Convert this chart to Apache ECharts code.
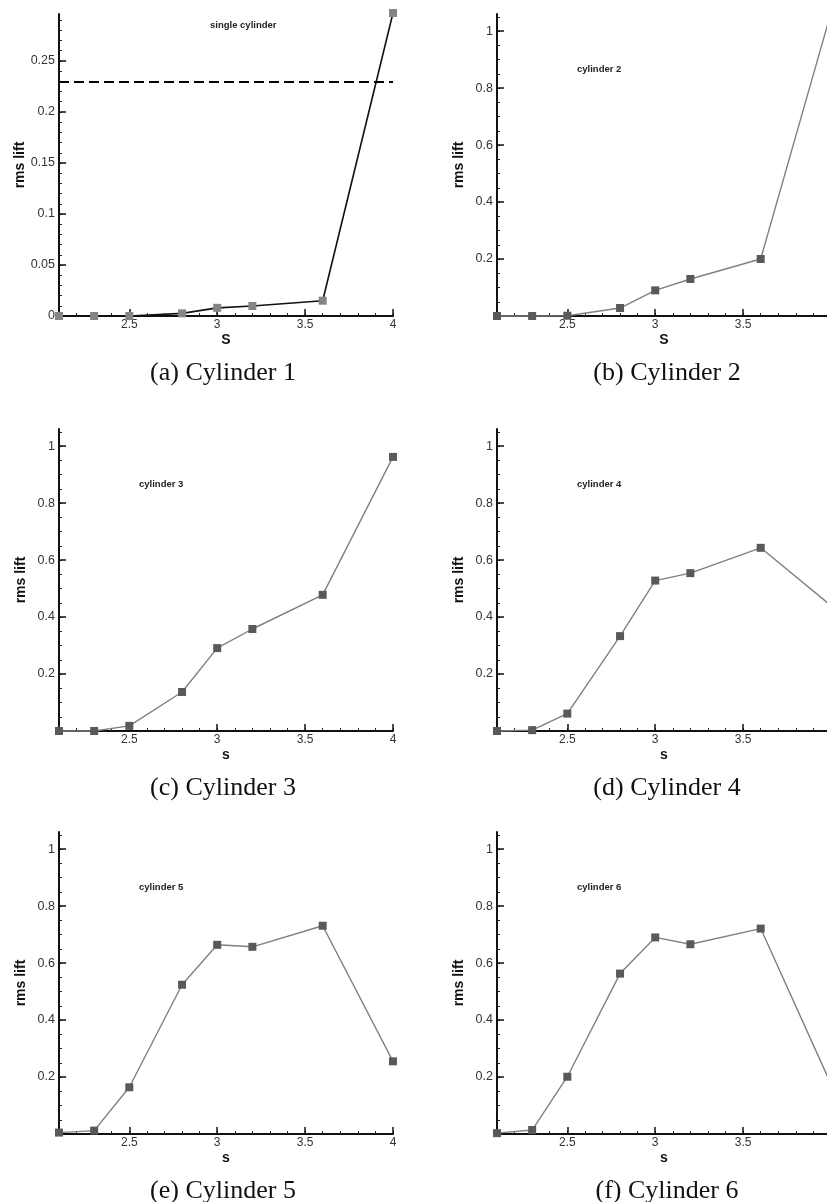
<!DOCTYPE html>
<html>
<head>
<meta charset="utf-8">
<title>rms lift vs s</title>
<script src="https://cdn.jsdelivr.net/npm/echarts@6/dist/echarts.min.js"></script>
<style>
  html, body { margin: 0; padding: 0; background: #ffffff; overflow: hidden; }
  /* the canvas is a little wider than the window: the right-hand panels run off the edge */
  #chart { width: 845px; height: 1202px; }
</style>
</head>
<body>
<div id="chart"></div>
<script>
// Spacing ratio s at which each case was computed
const sValues = [2.1, 2.3, 2.5, 2.8, 3.0, 3.2, 3.6, 4.0];

// rms lift coefficient for each cylinder
const rmsSingle = [0, 0, 0, 0.0026, 0.008, 0.0098, 0.015, 0.297];
const rmsCyl2 = [0, 0, 0.001, 0.028, 0.090, 0.130, 0.200, 1.065];
const rmsCyl3 = [0, 0, 0.018, 0.137, 0.291, 0.358, 0.478, 0.962];
const rmsCyl4 = [0, 0.003, 0.061, 0.333, 0.528, 0.554, 0.643, 0.44];
const rmsCyl5 = [0.005, 0.012, 0.164, 0.524, 0.664, 0.657, 0.731, 0.255];
const rmsCyl6 = [0.003, 0.014, 0.201, 0.563, 0.690, 0.666, 0.721, 0.175];

// Isolated single-cylinder reference level (dashed line)
const singleRefLevel = 0.23;

// Tick values
const sMajorTicks = [2.5, 3, 3.5, 4];
const liftTicksSingle = [0, 0.05, 0.1, 0.15, 0.2, 0.25];
const liftTicksCyl = [0.2, 0.4, 0.6, 0.8, 1];

// Panel captions and in-plot titles
const captions = ['(a) Cylinder 1', '(b) Cylinder 2', '(c) Cylinder 3',
                  '(d) Cylinder 4', '(e) Cylinder 5', '(f) Cylinder 6'];
const plotTitles = ['single cylinder', 'cylinder 2', 'cylinder 3',
                    'cylinder 4', 'cylinder 5', 'cylinder 6'];

function steps(from, to, step) {
  const out = [];
  const n = Math.round((to - from) / step);
  for (let i = 0; i <= n; i++) out.push(+(from + i * step).toFixed(4));
  return out;
}

const SANS = 'Liberation Sans, Arial, sans-serif';
const SERIF = 'Liberation Serif, Times New Roman, serif';

// grid boxes: left column / right column, three rows
const colLeft = [59, 497];
const rowTop = [14, 429, 832];
const plotW = 334, plotH = 302;
const captionShift = [-3, 3];

const panels = [
  { data: rmsSingle, max: 0.296, ticks: liftTicksSingle, minorStep: 0.01, xName: 'S', single: true },
  { data: rmsCyl2, max: 1.06, ticks: liftTicksCyl, minorStep: 0.05, xName: 'S' },
  { data: rmsCyl3, max: 1.06, ticks: liftTicksCyl, minorStep: 0.05, xName: 's' },
  { data: rmsCyl4, max: 1.06, ticks: liftTicksCyl, minorStep: 0.05, xName: 's' },
  { data: rmsCyl5, max: 1.06, ticks: liftTicksCyl, minorStep: 0.05, xName: 's' },
  { data: rmsCyl6, max: 1.06, ticks: liftTicksCyl, minorStep: 0.05, xName: 's' }
];

const grid = [], xAxis = [], yAxis = [], series = [], graphic = [];
const sMinor = steps(2.1, 4.0, 0.1);

panels.forEach((p, i) => {
  const left = colLeft[i % 2];
  const top = rowTop[Math.floor(i / 2)];
  grid.push({ left: left, top: top, width: plotW, height: plotH, containLabel: false });

  const axisLine = { show: true, onZero: false, lineStyle: { color: '#111', width: 2 } };
  const labelStyle = { color: '#333', fontFamily: SANS, fontSize: 12 };

  // minor ticks + axis line
  xAxis.push({
    gridIndex: i, type: 'value', min: 2.1, max: 4, position: 'bottom',
    axisLine: axisLine,
    axisTick: { show: true, inside: true, length: 3, customValues: sMinor,
                lineStyle: { color: '#222', width: 1 } },
    axisLabel: { show: false }, splitLine: { show: false }
  });
  // major ticks, labels and name
  xAxis.push({
    gridIndex: i, type: 'value', min: 2.1, max: 4, position: 'bottom',
    axisLine: { show: false },
    axisTick: { show: true, inside: true, length: 7, customValues: sMajorTicks,
                lineStyle: { color: '#111', width: 1.5 } },
    axisLabel: Object.assign({ customValues: sMajorTicks, margin: 3 }, labelStyle),
    splitLine: { show: false },
    name: p.xName, nameLocation: 'middle', nameGap: 17,
    nameTextStyle: { fontFamily: SANS, fontSize: 14, fontWeight: 'bold', color: '#111' }
  });

  const yMinor = steps(0, p.single ? 0.29 : 1.05, p.minorStep);
  yAxis.push({
    gridIndex: i, type: 'value', min: 0, max: p.max, position: 'left',
    axisLine: axisLine,
    axisTick: { show: true, inside: true, length: 3, customValues: yMinor,
                lineStyle: { color: '#222', width: 1 } },
    axisLabel: { show: false }, splitLine: { show: false }
  });
  yAxis.push({
    gridIndex: i, type: 'value', min: 0, max: p.max, position: 'left',
    axisLine: { show: false },
    axisTick: { show: true, inside: true, length: 7, customValues: p.ticks,
                lineStyle: { color: '#111', width: 1.5 } },
    axisLabel: Object.assign({ customValues: p.ticks, margin: 4 }, labelStyle, { fontSize: 12.5 }),
    splitLine: { show: false },
    name: 'rms lift', nameLocation: 'middle', nameGap: 31,
    nameTextStyle: { fontFamily: SANS, fontSize: 14, fontWeight: 'bold', color: '#111' }
  });

  const s = {
    type: 'line',
    xAxisIndex: 2 * i, yAxisIndex: 2 * i,
    data: sValues.map((x, k) => [x, p.data[k]]),
    symbol: 'rect', symbolSize: 8, clip: false,
    lineStyle: { color: p.single ? '#111' : '#808080', width: p.single ? 1.6 : 1.4 },
    itemStyle: { color: p.single ? '#858585' : '#595959' },
    emphasis: { disabled: true },
    z: 3
  };
  if (p.single) {
    s.markLine = {
      silent: true, symbol: 'none', animation: false,
      label: { show: false },
      lineStyle: { color: '#000', type: [10, 5], width: 2 },
      data: [{ yAxis: singleRefLevel }]
    };
  }
  series.push(s);

  // in-plot title
  graphic.push({
    type: 'text',
    left: left + (i === 0 ? 151 : 80),
    top: top + (i === 0 ? 6 : 50),
    style: { text: plotTitles[i], font: 'bold 9.5px ' + SANS, fill: '#222' }
  });
  // caption below the panel
  graphic.push({
    type: 'text',
    x: left + plotW / 2 + captionShift[i % 2],
    y: top + plotH + 57,
    style: { text: captions[i], font: '26px ' + SERIF, fill: '#111',
             textAlign: 'center', textVerticalAlign: 'middle' }
  });
});

const chart = echarts.init(document.getElementById('chart'), null, { renderer: 'canvas' });
chart.setOption({
  animation: false,
  backgroundColor: '#ffffff',
  grid: grid,
  xAxis: xAxis,
  yAxis: yAxis,
  series: series,
  graphic: graphic
});
</script>
</body>
</html>
